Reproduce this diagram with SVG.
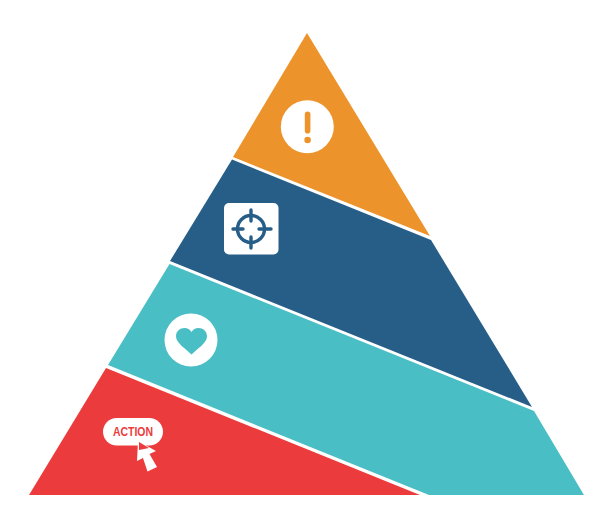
<svg xmlns="http://www.w3.org/2000/svg" width="611" height="514" viewBox="0 0 611 514">
<style>
.w{fill:#fff}
.st{fill:none;stroke:#265e88;stroke-width:3.4;stroke-linecap:round}
</style>
<rect width="611" height="514" fill="#fff"/>
<g id="tier-orange">
<polygon points="307,33 430,236 233,157" fill="#ed932c"/>
<circle class="w" cx="307.300" cy="126.700" r="26.500"/>
<rect x="304.800" y="111.500" width="5.600" height="22" rx="2.800" fill="#ed932c"/>
<circle cx="307.600" cy="140" r="3.300" fill="#ed932c"/>
</g>
<g id="tier-blue">
<polygon points="232,159.500 431,240 532,407 170,261" fill="#265e88"/>
<rect class="w" x="224" y="203" width="54.500" height="51.500" rx="5"/>
<circle class="st" cx="251" cy="229" r="13.500"/>
<path class="st" d="M251,210V221M251,237V248M233,229H243M259,229H271"/>
</g>
<g id="tier-teal">
<polygon points="169.500,264 534,411 584,495 429,495 108,365" fill="#4abec5"/>
<circle class="w" cx="191" cy="340" r="26.500"/>
<path d="M191.500,354.500 C186,349 176,343 176,336.500 C176,331 180,328 184.500,328 C187.500,328 190,329.500 191.500,332 C193,329.500 195.500,328 198.500,328 C203,328 207,331 207,336.500 C207,343 197,349 191.500,354.500 Z" fill="#4abec5"/>
</g>
<g id="tier-red">
<polygon points="106,368 420,495 29,495" fill="#ec3b3c"/>
<rect class="w" x="103" y="418" width="60" height="27.500" rx="13.750"/>
<text x="133" y="436.300" text-anchor="middle" font-family="'Liberation Sans',Arial,sans-serif" font-weight="700" font-size="12.500" textLength="40" lengthAdjust="spacingAndGlyphs" fill="#ec3b3c">ACTION</text>
<polygon points="138,441 156,451 149.500,454 157,467 147.500,471.500 143,458 137,461" class="w"/>
<polygon points="139,442 149,448 139,450" fill="#ec3b3c"/>
</g>
</svg>
